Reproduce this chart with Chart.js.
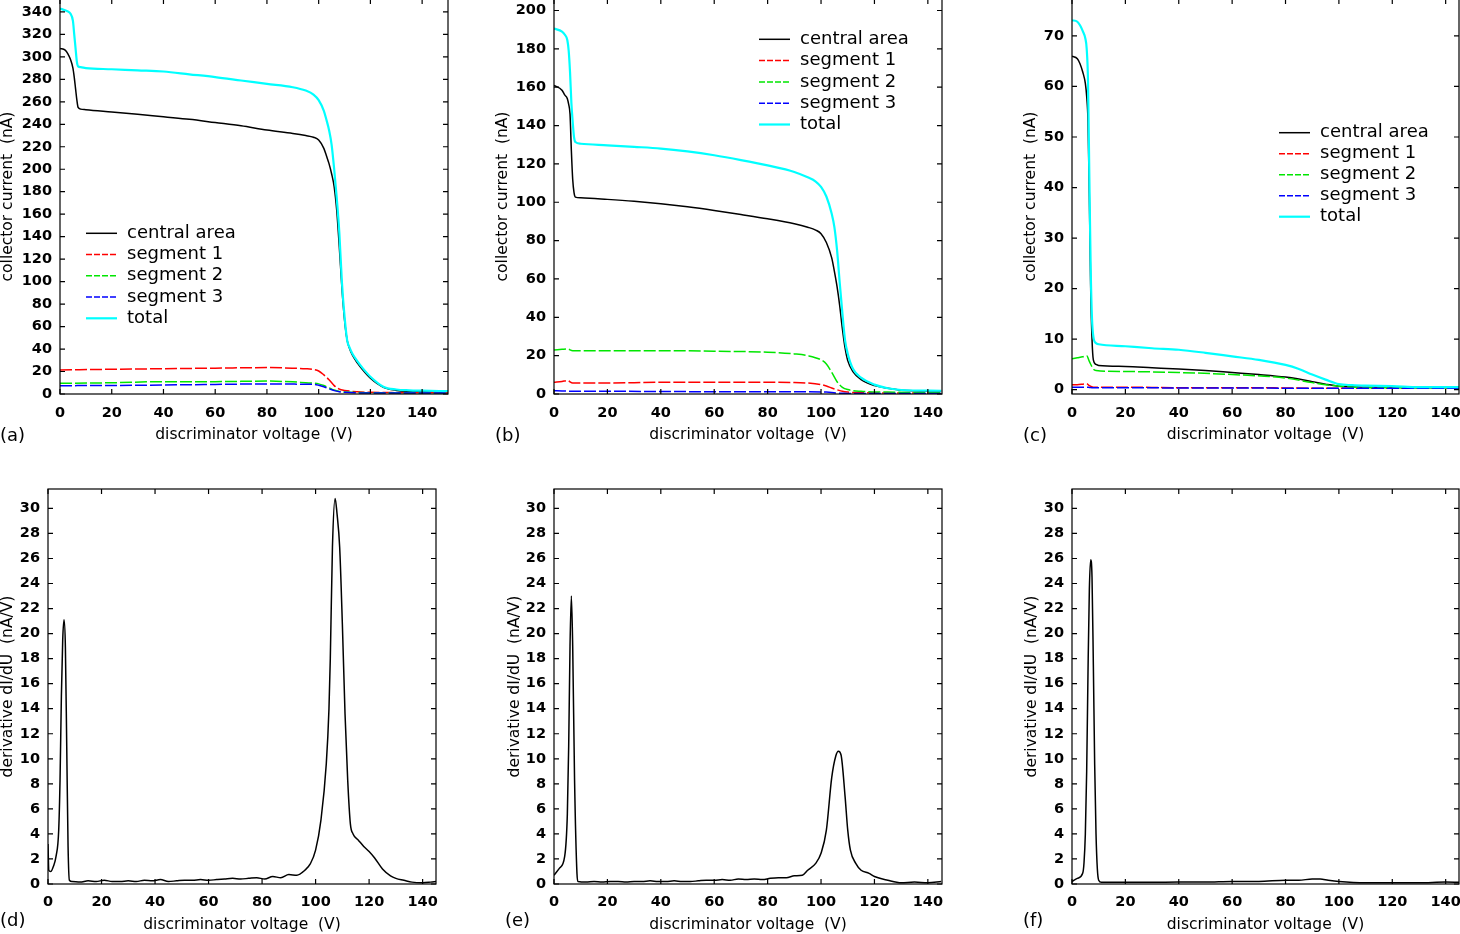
<!DOCTYPE html>
<html>
<head>
<meta charset="utf-8">
<script src="https://cdn.jsdelivr.net/npm/chart.js@4.4.0/dist/chart.umd.min.js"></script>
<style>
  body { margin: 0; background: #fff; width: 1460px; height: 934px; position: relative; overflow: hidden; }
  canvas { position: absolute; }
  .lbl { position: absolute; font-family: "DejaVu Sans"; font-size: 18px; line-height: 18px; color: #000; }
</style>
</head>
<body>
<canvas id="pa" width="490" height="452" style="left:0px;top:-2px"></canvas>
<canvas id="pb" width="510" height="452" style="left:490px;top:-2px"></canvas>
<canvas id="pc" width="460" height="452" style="left:1000px;top:-2px"></canvas>
<canvas id="pd" width="490" height="454" style="left:0px;top:480px"></canvas>
<canvas id="pe" width="510" height="454" style="left:490px;top:480px"></canvas>
<canvas id="pf" width="460" height="454" style="left:1000px;top:480px"></canvas>
<div class="lbl" style="left:0px;top:426px">(a)</div>
<div class="lbl" style="left:495px;top:426px">(b)</div>
<div class="lbl" style="left:1023px;top:426px">(c)</div>
<div class="lbl" style="left:0px;top:911px">(d)</div>
<div class="lbl" style="left:505px;top:911px">(e)</div>
<div class="lbl" style="left:1023px;top:911px">(f)</div>
<script>
// tick labels
var voltTicks = [0, 20, 40, 60, 80, 100, 120, 140];
var currentTicksA = [0, 20, 40, 60, 80, 100, 120, 140, 160, 180, 200, 220, 240, 260, 280, 300, 320, 340];
var currentTicksB = [0, 20, 40, 60, 80, 100, 120, 140, 160, 180, 200];
var currentTicksC = [0, 10, 20, 30, 40, 50, 60, 70];
var derivTicks = [0, 2, 4, 6, 8, 10, 12, 14, 16, 18, 20, 22, 24, 26, 28, 30];

// (a) collector current
var voltA = [0, 2, 3, 4, 5, 5.5, 6, 6.5, 7, 8, 10, 20, 30, 40, 50, 60, 70, 80, 90, 95, 98, 100, 102, 103, 104, 105, 106, 107, 108, 109, 110, 111, 112, 113, 115, 117, 120, 125, 130, 135, 140, 150];
var centralA = [307.5, 306, 303, 298, 290, 282, 272, 262, 255, 253.5, 253, 251, 249, 246.7, 244.5, 241.6, 238.7, 234.9, 231.9, 230, 228.5, 226, 218.6, 212, 205, 196, 184.4, 163, 130, 94, 66, 48, 40, 34.7, 27.5, 21.5, 14, 6, 3.2, 2.3, 2, 1.5];
var totalA = [343, 341.5, 340.5, 338.6, 332, 320, 308, 296, 291.5, 290.8, 290, 289, 288, 287, 284.5, 282, 279, 276, 273, 270, 266.5, 261.5, 252, 244, 235, 222, 200, 174, 143, 99, 69, 48, 41, 36, 29, 23, 15.4, 6.5, 4, 3.3, 3, 2.5];
var segVoltA = [0, 20, 40, 60, 80, 90, 95, 98, 100, 102, 104, 106, 108, 110, 115, 120, 130, 150];
var seg1A = [21.4, 22, 22.5, 23, 23.5, 23, 22.5, 21.8, 20.5, 17, 12.7, 7.5, 4.3, 3.2, 2, 1.5, 1.2, 1];
var seg2A = [9.5, 10, 11, 11, 11.5, 10.8, 10, 9.6, 9, 7.5, 5.5, 3.5, 2.3, 1.8, 1.3, 1.2, 1, 0.8];
var seg3A = [7.4, 7.6, 8, 8.5, 9, 8.8, 8.7, 8.6, 7.8, 6.5, 4.7, 3, 2, 1.5, 1, 0.9, 0.8, 0.8];

// (b) collector current
var voltB = [0, 3, 4, 5, 5.5, 6, 6.5, 7, 7.5, 8, 10, 20, 30, 40, 50, 60, 70, 80, 90, 95, 98, 100, 102, 104, 105, 106, 107, 108, 109, 110, 112, 115, 120, 125, 130, 145];
var centralB = [161, 158.4, 156, 154, 151, 146, 127, 112, 105, 102.7, 102.3, 101.5, 100.5, 99.2, 97.6, 95.7, 93.6, 91.4, 88.8, 87, 85.5, 83.6, 79, 71, 64, 56, 46, 34, 24, 17.4, 11.5, 7.5, 4.4, 3, 2, 1.5];
var totalB = [190.6, 189, 187.5, 184.5, 179, 168, 152, 142, 134, 131.4, 130.5, 129.7, 128.9, 128, 126.5, 124.5, 122, 119.2, 115.8, 113, 110.8, 108, 103, 94, 87, 75, 58, 42, 28, 21, 13, 8.5, 4.9, 3, 2.1, 1.7];
var segVoltB = [0, 3, 5, 7, 10, 20, 40, 60, 80, 90, 95, 100, 102, 104, 106, 108, 110, 115, 125, 145];
var seg1B = [6.1, 6.5, 7, 5.7, 5.7, 5.7, 6.1, 6.1, 6.1, 6, 5.7, 4.9, 4.2, 3.1, 2.2, 1.4, 1, 0.7, 0.5, 0.5];
var seg2B = [23, 23.3, 23.5, 22.6, 22.6, 22.6, 22.6, 22.3, 21.8, 20.9, 20, 17.8, 15.7, 11.3, 6.4, 3.5, 2.3, 1.4, 1, 0.6];
var seg3B = [1.7, 1.6, 1.5, 1.4, 1.4, 1.4, 1.3, 1.2, 1.2, 1.2, 1.2, 1.1, 1, 0.8, 0.5, 0.4, 0.3, 0.3, 0.3, 0.3];

// (c) collector current
var voltC = [0, 2, 3, 4, 5, 5.5, 6, 6.5, 7, 7.5, 8, 9, 10, 20, 30, 40, 50, 60, 70, 80, 85, 90, 95, 100, 105, 110, 120, 130, 145];
var centralC = [66, 65.5, 64.5, 62.9, 60.6, 58, 53, 38, 20, 10, 5.9, 5, 4.8, 4.6, 4.35, 4.1, 3.8, 3.4, 3, 2.5, 2.1, 1.6, 1.1, 0.7, 0.6, 0.5, 0.5, 0.4, 0.4];
var totalC = [73.1, 72.8, 72.1, 71, 69.5, 67.5, 61, 42, 24, 14, 10.5, 9.2, 9, 8.6, 8.2, 7.9, 7.3, 6.6, 5.9, 4.9, 4.1, 3, 2, 1.1, 0.9, 0.8, 0.7, 0.5, 0.5];
var segVoltC = [0, 2, 4, 5.5, 6.5, 8, 9, 20, 40, 60, 80, 90, 95, 100, 110, 145];
var seg1C = [1, 1, 1.1, 1.2, 0.8, 0.5, 0.5, 0.5, 0.4, 0.4, 0.35, 0.3, 0.3, 0.3, 0.3, 0.3];
var seg2C = [6.1, 6.3, 6.5, 6.7, 5.6, 4.1, 3.8, 3.6, 3.4, 3, 2.3, 1.4, 1, 0.7, 0.4, 0.4];
var seg3C = [0.5, 0.5, 0.5, 0.5, 0.45, 0.4, 0.4, 0.4, 0.35, 0.35, 0.3, 0.3, 0.3, 0.3, 0.3, 0.3];

// (d)-(f) derivative dI/dU
var voltD = [0, 0.3, 1, 2, 3, 4, 4.5, 5, 5.5, 6, 6.5, 7, 7.5, 8, 9, 12, 15, 18, 21, 24, 27, 30, 33, 36, 39, 42, 45, 48, 51, 54, 57, 60, 63, 66, 69, 72, 75, 78, 81, 84, 87, 90, 93, 96, 98, 100, 102, 104, 105, 105.5, 106.3, 107.3, 108, 109, 110, 111, 112, 113, 114, 116, 118, 120, 122, 125, 128, 130, 133, 136, 140, 143, 145];
var derivD = [3.2, 1.1, 1, 1.4, 2.2, 4.3, 8.3, 15, 19.5, 21.1, 18.9, 11, 3, 0.3, 0.2, 0.15, 0.25, 0.2, 0.3, 0.2, 0.2, 0.25, 0.2, 0.3, 0.25, 0.35, 0.2, 0.25, 0.3, 0.3, 0.35, 0.3, 0.35, 0.4, 0.45, 0.4, 0.45, 0.5, 0.4, 0.6, 0.5, 0.75, 0.7, 1.1, 1.6, 2.7, 5.1, 9.6, 14, 18, 26.9, 30.8, 29.6, 26.9, 20.8, 13.6, 8.3, 4.8, 4, 3.5, 3, 2.6, 2.1, 1.2, 0.65, 0.45, 0.3, 0.15, 0.1, 0.15, 0.2];
var voltE = [0, 2, 4, 5, 5.5, 6, 6.5, 7, 7.7, 8.6, 9, 12, 15, 18, 21, 24, 27, 30, 33, 36, 39, 42, 45, 48, 51, 54, 57, 60, 63, 66, 69, 72, 75, 78, 81, 84, 87, 90, 93, 95, 98, 100, 102, 104, 105.5, 106.5, 107.5, 109, 110, 111, 113, 115, 118, 120, 125, 130, 135, 140, 145];
var derivE = [0.7, 1.25, 2.2, 5.6, 11, 19, 23, 19, 8.3, 0.85, 0.2, 0.15, 0.2, 0.15, 0.2, 0.2, 0.15, 0.2, 0.2, 0.25, 0.2, 0.2, 0.25, 0.2, 0.2, 0.25, 0.3, 0.3, 0.35, 0.3, 0.4, 0.35, 0.4, 0.35, 0.45, 0.5, 0.5, 0.65, 0.7, 1.1, 1.65, 2.45, 4.3, 8.5, 10.2, 10.6, 10.3, 7, 4.3, 2.7, 1.65, 1.1, 0.85, 0.6, 0.3, 0.1, 0.15, 0.1, 0.2];
var voltF = [0, 2, 4, 4.5, 5, 5.5, 6, 6.5, 7, 7.5, 8, 8.5, 9, 9.5, 10, 11, 20, 30, 40, 50, 60, 70, 80, 85, 90, 93, 96, 100, 110, 120, 130, 140, 145];
var derivF = [0.2, 0.45, 0.85, 1.7, 4, 9, 17, 23.5, 25.9, 24.5, 17.5, 9.5, 4, 1.2, 0.3, 0.13, 0.13, 0.13, 0.15, 0.15, 0.2, 0.2, 0.3, 0.3, 0.4, 0.4, 0.3, 0.2, 0.1, 0.1, 0.1, 0.15, 0.13];

Chart.defaults.font.family = '"DejaVu Sans"';
Chart.defaults.color = '#000';

function pts(xs, ys) {
  return xs.map(function (x, i) { return { x: x, y: ys[i] }; });
}

function currentSeries(v, c, sv, s1, s2, s3, t) {
  return [
    { label: 'central area', x: v, y: c, color: '#000000', width: 1.5 },
    { label: 'segment 1', x: sv, y: s1, color: '#ff0000', width: 1.5, dash: [12, 3] },
    { label: 'segment 2', x: sv, y: s2, color: '#00e600', width: 1.5, dash: [12, 3] },
    { label: 'segment 3', x: sv, y: s3, color: '#0000ff', width: 1.5, dash: [12, 3] },
    { label: 'total', x: v, y: t, color: '#00ffff', width: 2.2 }
  ];
}

// box with inward ticks on all four sides, like the original plots
var framePlugin = {
  id: 'frame',
  afterDatasetsDraw: function (chart) {
    var ctx = chart.ctx, a = chart.chartArea, x = chart.scales.x, y = chart.scales.y;
    ctx.save();
    ctx.strokeStyle = '#000';
    ctx.lineWidth = 1.2;
    ctx.strokeRect(a.left, a.top, a.right - a.left, a.bottom - a.top);
    ctx.beginPath();
    x.ticks.forEach(function (t) {
      var p = x.getPixelForValue(t.value);
      ctx.moveTo(p, a.bottom); ctx.lineTo(p, a.bottom - 5);
      ctx.moveTo(p, a.top); ctx.lineTo(p, a.top + 5);
    });
    y.ticks.forEach(function (t) {
      var p = y.getPixelForValue(t.value);
      ctx.moveTo(a.left, p); ctx.lineTo(a.left + 5, p);
      ctx.moveTo(a.right, p); ctx.lineTo(a.right - 5, p);
    });
    ctx.stroke();
    ctx.restore();
  }
};

function legendPlugin(pos) {
  return {
    id: 'boxLegend',
    afterDraw: function (chart) {
      if (!pos) return;
      var ctx = chart.ctx;
      ctx.save();
      ctx.font = '18px "DejaVu Sans"';
      ctx.textBaseline = 'middle';
      ctx.fillStyle = '#000';
      chart.data.datasets.forEach(function (ds, i) {
        var yy = pos.y + i * pos.dy;
        ctx.strokeStyle = ds.borderColor;
        ctx.lineWidth = ds.borderWidth;
        ctx.setLineDash(ds.borderDash.length ? [6, 2] : []);
        ctx.beginPath(); ctx.moveTo(pos.x1, yy); ctx.lineTo(pos.x2, yy); ctx.stroke();
        ctx.setLineDash([]);
        ctx.fillText(ds.label, pos.tx, yy);
      });
      ctx.restore();
    }
  };
}

function makePanel(p) {
  var n = p.series.length;
  var datasets = p.series.map(function (s, i) {
    return {
      label: s.label,
      data: pts(s.x, s.y),
      borderColor: s.color,
      borderWidth: s.width,
      borderDash: s.dash || [],
      pointRadius: 0,
      cubicInterpolationMode: 'monotone',
      fill: false,
      order: n - 1 - i
    };
  });
  var tickFont = { size: 14.5, weight: 'bold' };
  new Chart(document.getElementById(p.id), {
    type: 'line',
    data: { datasets: datasets },
    options: {
      responsive: false,
      animation: false,
      devicePixelRatio: 1,
      layout: { padding: { top: p.frame[1], right: p.w - p.frame[2], left: 0, bottom: 0 } },
      plugins: { legend: { display: false }, tooltip: { enabled: false } },
      scales: {
        x: {
          type: 'linear', min: 0, max: p.xMax,
          grid: { display: false, drawTicks: false }, border: { display: false },
          ticks: { padding: p.xTickPad, autoSkip: false, maxRotation: 0, font: tickFont },
          title: { display: true, text: 'discriminator voltage  (V)', font: { size: 15.5, lineHeight: 1 }, padding: { top: 0, bottom: p.xTitlePad } },
          afterBuildTicks: function (s) { s.ticks = voltTicks.map(function (v) { return { value: v }; }); },
          afterFit: function (s) {
            s.height = p.h - p.frame[3];
            s.paddingLeft = 0; s.paddingRight = 0;
          }
        },
        y: {
          type: 'linear', min: p.yMin, max: p.yMax,
          grid: { display: false, drawTicks: false }, border: { display: false },
          ticks: { padding: 8, autoSkip: false, font: tickFont },
          title: { display: true, text: p.yTitle, font: { size: 15.5, lineHeight: 1 }, padding: { top: p.yTitlePad, bottom: 0 } },
          afterBuildTicks: function (s) { s.ticks = p.yTicks.map(function (v) { return { value: v }; }); },
          afterFit: function (s) {
            s.width = p.frame[0];
            s.paddingTop = 0; s.paddingBottom = 0;
          }
        }
      }
    },
    plugins: [framePlugin, legendPlugin(p.legend)]
  });
}

var curTitle = 'collector current  (nA)';
var derTitle = 'derivative dI/dU  (nA/V)';

makePanel({ id: 'pa', w: 490, h: 452, frame: [60, 1, 448, 396], xMax: 150, yMin: 0, yMax: 351.5,
  yTicks: currentTicksA, yTitle: curTitle, yTitlePad: 0, xTitlePad: 7.25, xTickPad: 10.5,
  legend: { x1: 86, x2: 117, tx: 127, y: 235.3, dy: 21.25 },
  series: currentSeries(voltA, centralA, segVoltA, seg1A, seg2A, seg3A, totalA) });

makePanel({ id: 'pb', w: 510, h: 452, frame: [64, 1, 452, 396], xMax: 145.3, yMin: 0, yMax: 206,
  yTicks: currentTicksB, yTitle: curTitle, yTitlePad: 5, xTitlePad: 7.25, xTickPad: 10.5,
  legend: { x1: 269, x2: 300, tx: 310, y: 41.3, dy: 21.3 },
  series: currentSeries(voltB, centralB, segVoltB, seg1B, seg2B, seg3B, totalB) });

makePanel({ id: 'pc', w: 460, h: 452, frame: [72, 1, 459, 396], xMax: 145, yMin: -0.85, yMax: 77.3,
  yTicks: currentTicksC, yTitle: curTitle, yTitlePad: 23, xTitlePad: 7.25, xTickPad: 10.5,
  legend: { x1: 279, x2: 310, tx: 320, y: 134.7, dy: 21 },
  series: currentSeries(voltC, centralC, segVoltC, seg1C, seg2C, seg3C, totalC) });

makePanel({ id: 'pd', w: 490, h: 454, frame: [48, 9, 436, 404], xMax: 145, yMin: 0, yMax: 31.55,
  yTicks: derivTicks, yTitle: derTitle, yTitlePad: 0, xTitlePad: 1.25, xTickPad: 9.7,
  series: [{ label: 'derivative', x: voltD, y: derivD, color: '#000000', width: 1.5 }] });

makePanel({ id: 'pe', w: 510, h: 454, frame: [64, 9, 452, 404], xMax: 145.3, yMin: 0, yMax: 31.55,
  yTicks: derivTicks, yTitle: derTitle, yTitlePad: 17, xTitlePad: 1.25, xTickPad: 9.7,
  series: [{ label: 'derivative', x: voltE, y: derivE, color: '#000000', width: 1.5 }] });

makePanel({ id: 'pf', w: 460, h: 454, frame: [72, 9, 459, 404], xMax: 145, yMin: 0, yMax: 31.55,
  yTicks: derivTicks, yTitle: derTitle, yTitlePad: 24, xTitlePad: 1.25, xTickPad: 9.7,
  series: [{ label: 'derivative', x: voltF, y: derivF, color: '#000000', width: 1.5 }] });
</script>
</body>
</html>
